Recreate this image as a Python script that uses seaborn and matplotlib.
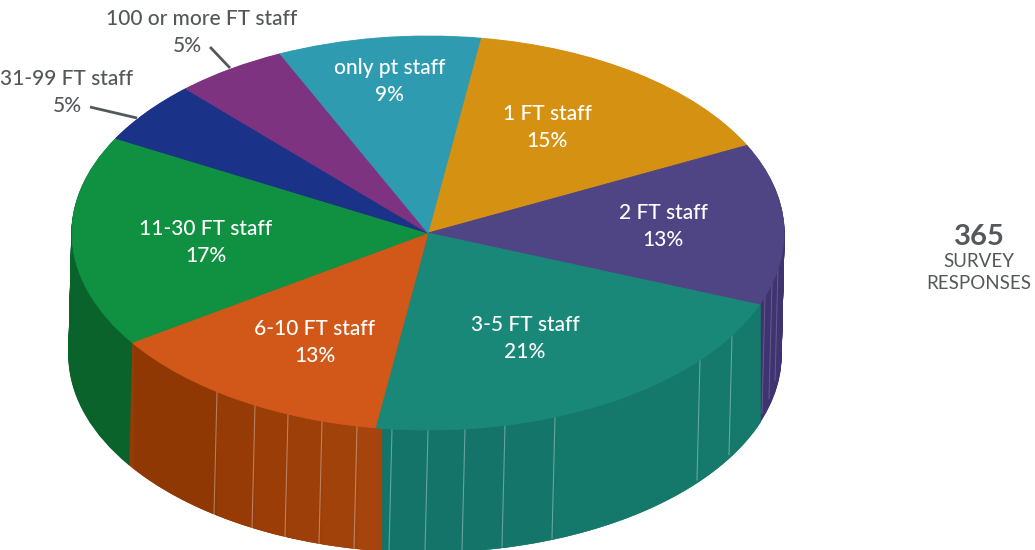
import numpy as np
import matplotlib
matplotlib.use("Agg")
import matplotlib.pyplot as plt
import seaborn as sns

categories = ["1 FT staff", "2 FT staff", "3-5 FT staff", "6-10 FT staff",
              "11-30 FT staff", "31-99 FT staff", "100 or more FT staff", "only pt staff"]
shares = [15, 13, 21, 13, 17, 5, 5, 9]
top_hex = ["#d59112", "#4f4585", "#1a8878", "#d25819", "#109041", "#1a3287", "#7e3381", "#2f9bb0"]
wall_hex = ["#9a690c", "#3f3470", "#14766a", "#973b05", "#0a632b", "#12245f", "#5a2460", "#207080"]

sns.set_theme(style="white")
plt.rcParams["font.family"] = ["Lato", "DejaVu Sans"]
FONT = "#55585a"

W, H = 1035, 550
CX, CY, RX, RY, DEPTH, SKEW = 428, 233, 356, 197, 122, -3
fig = plt.figure(figsize=(W / 100, H / 100), dpi=100, facecolor="white")
ax = fig.add_axes([0, 0, 1, 1])

def dx(px):
    return px

def dy(py):
    return (H - py) * RX / RY

start = 90 - 8.5
top_colors = sns.color_palette(top_hex)
wall_colors = sns.color_palette(wall_hex)

def draw_pie(colors, cx, cy, z, lw):
    wedges, _ = ax.pie(shares, colors=colors, startangle=start, counterclock=False, radius=RX,
                       center=(dx(cx), dy(cy)), normalize=True)
    for w, c in zip(wedges, colors):
        w.set_edgecolor(c)
        w.set_linewidth(lw)
        w.set_zorder(z)

# side wall: stacked pies, bottom upward
for d in range(DEPTH, 0, -1):
    draw_pie(wall_colors, CX + SKEW * d / DEPTH, CY + d, 1, 1.0)

def top_y(x):
    return CY + RY * np.sqrt(np.clip(1 - ((x - CX) / RX) ** 2, 0, 1))

def bot_y(x):
    return CY + DEPTH + RY * np.sqrt(np.clip(1 - ((x - CX - SKEW) / RX) ** 2, 0, 1))

# shaded wall facets
brown_edges = [134, 217, 255, 288, 322, 357, 382]
brown_shades = ["#8f3803", "#963b05", "#9a3d07", "#9c3f08", "#a0420a", "#a5440d"]
teal_edges = [382, 392, 428, 465, 505, 555, 700, 732, 760]
teal_shades = ["#12756a", "#14746a", "#14746a", "#14746a", "#14766a", "#14786a", "#15796c", "#15796c"]
for edges, shades in ((brown_edges, brown_shades), (teal_edges, teal_shades)):
    for i, c in enumerate(shades):
        xs = np.linspace(edges[i], edges[i + 1], 40)
        ax.fill_between(dx(xs), dy(top_y(xs)), dy(bot_y(xs)), color=c, lw=0.4, zorder=2)
    for e in edges[1:-1]:
        ax.plot([dx(e), dx(e + SKEW)], [dy(top_y(e)), dy(bot_y(e))],
                color="white", alpha=0.35, lw=0.8, zorder=3)
for e in [765, 772, 778]:
    ax.plot([dx(e), dx(e + SKEW)], [dy(top_y(e)), dy(bot_y(e))],
            color="white", alpha=0.2, lw=0.7, zorder=3)

# top face
draw_pie(top_colors, CX, CY, 4, 0.6)

ax.set_aspect("auto")
ax.set_xlim(0, W)
ax.set_ylim(0, H * RX / RY)
ax.axis("off")

inside = {"1 FT staff": (547, 114), "2 FT staff": (663, 213), "3-5 FT staff": (525, 325),
          "6-10 FT staff": (315, 329), "11-30 FT staff": (206, 229), "only pt staff": (390, 68)}
for name, val in zip(categories, shares):
    if name in inside:
        x, y = inside[name]
        ax.text(dx(x), dy(y), name, color="white", fontsize=15, fontweight="medium",
                ha="center", va="center", zorder=6)
        ax.text(dx(x), dy(y + 27), f"{val}%", color="white", fontsize=15, fontweight="medium",
                ha="center", va="center", zorder=6)

ax.text(dx(67), dy(79), categories[5], color=FONT, fontsize=15, fontweight="medium", ha="center", va="center")
ax.text(dx(67), dy(106), f"{shares[5]}%", color=FONT, fontsize=15, fontweight="medium", ha="center", va="center")
ax.text(dx(202), dy(19), categories[6], color=FONT, fontsize=15, fontweight="medium", ha="center", va="center")
ax.text(dx(187), dy(46), f"{shares[6]}%", color=FONT, fontsize=15, fontweight="medium", ha="center", va="center")
ax.plot([dx(90), dx(137)], [dy(107), dy(118)], color=FONT, lw=2, zorder=5, solid_capstyle="butt")
ax.plot([dx(210), dx(230)], [dy(47), dy(68)], color=FONT, lw=2, zorder=5, solid_capstyle="butt")

ax.text(dx(979), dy(237), "365", color=FONT, fontsize=21, fontweight="bold", ha="center", va="center")
ax.text(dx(979), dy(262), "SURVEY", color=FONT, fontsize=13.5, ha="center", va="center")
ax.text(dx(979), dy(284), "RESPONSES", color=FONT, fontsize=13.5, ha="center", va="center")

fig.savefig("out.png", dpi=100, facecolor="white")
